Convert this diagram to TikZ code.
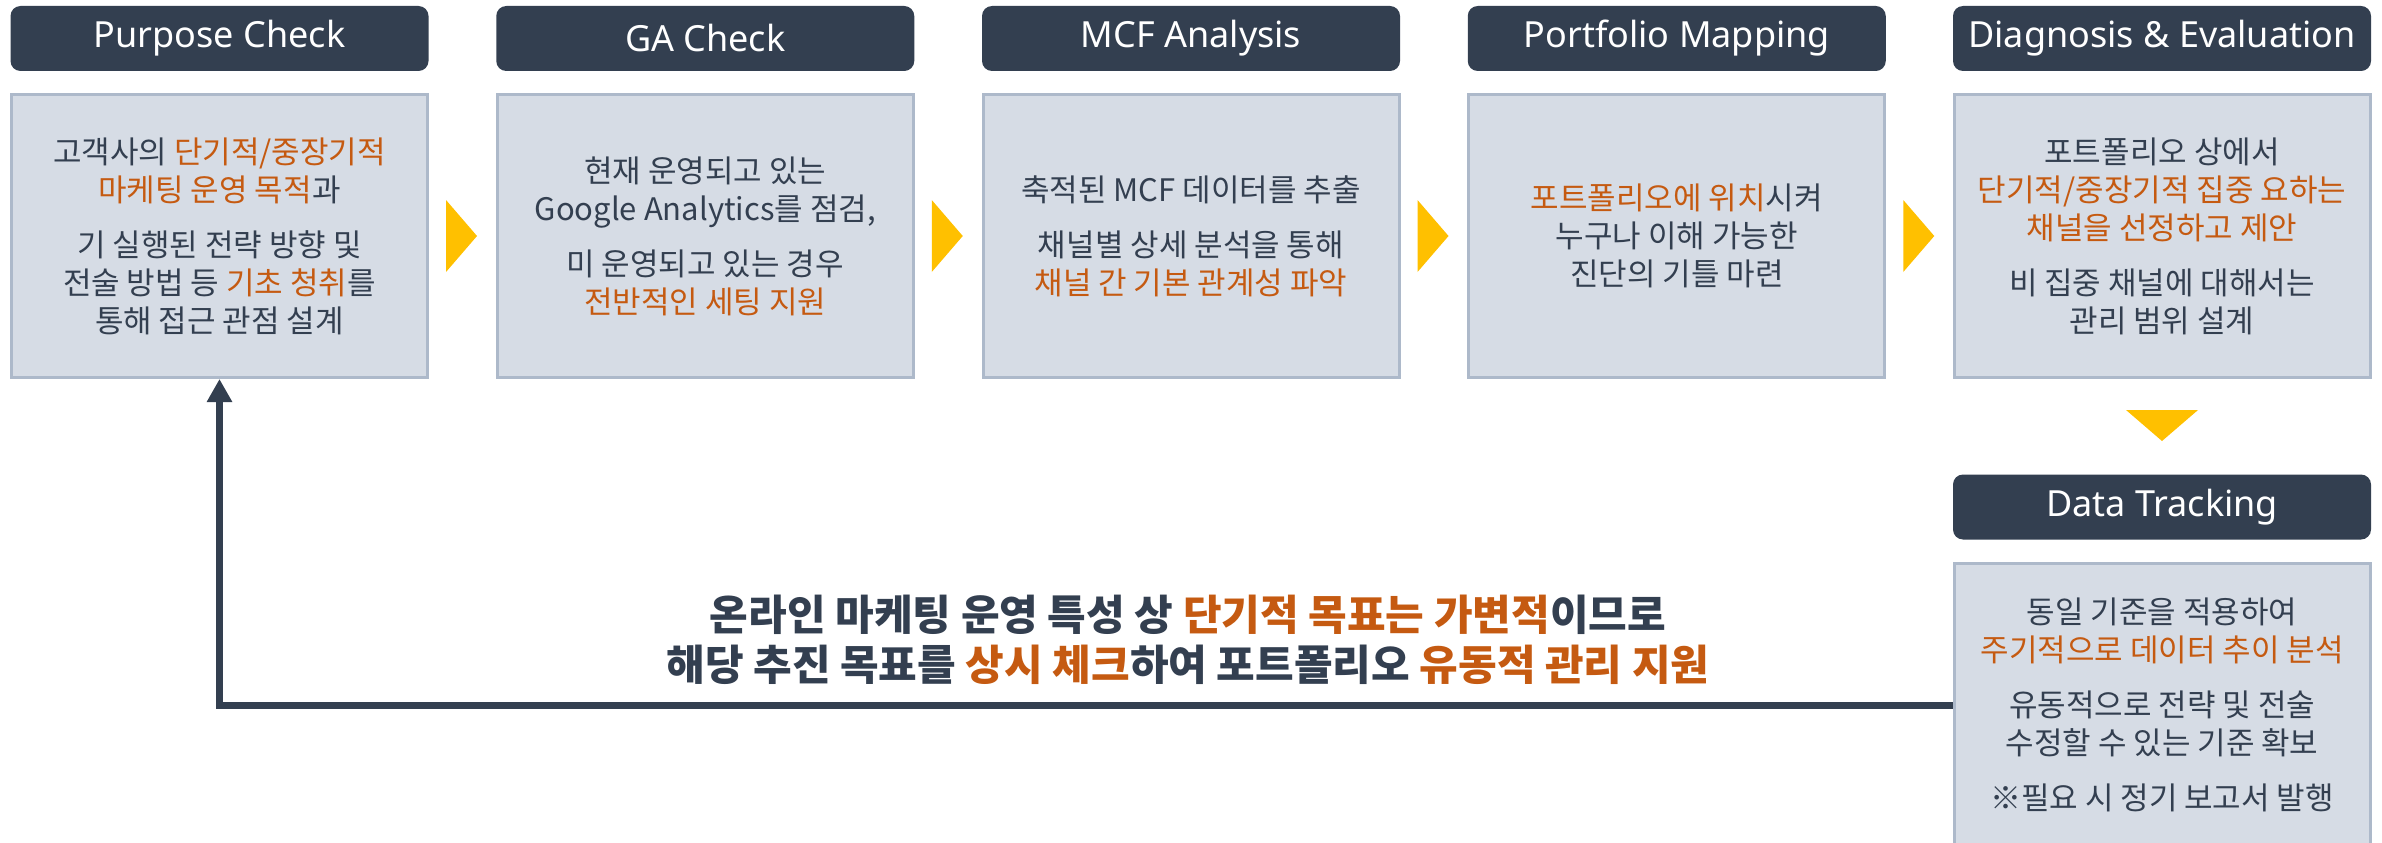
\documentclass[tikz,border=0pt]{standalone}
\usepackage{fontspec}
\setmainfont{Noto Sans CJK KR}
\newfontfamily\headfont{Noto Sans}
\usetikzlibrary{arrows.meta}
\definecolor{navy}{HTML}{333F50}
\definecolor{boxfill}{HTML}{D6DCE5}
\definecolor{boxline}{HTML}{ADB9CA}
\definecolor{accent}{HTML}{C55A11}
\definecolor{chevron}{HTML}{FFC000}
\newcommand{\hl}[1]{\textcolor{accent}{#1}}

\begin{document}
\begin{tikzpicture}[x=1pt,y=-1pt,
  header/.style={fill=navy, rounded corners=10pt, minimum width=418pt,
    minimum height=65pt, text=white, inner sep=0pt,
    font=\headfont\fontsize{36}{42}\selectfont},
  stepbox/.style={fill=boxfill, draw=boxline, line width=3pt,
    minimum width=416pt, minimum height=283pt, text=navy, inner sep=0pt,
    align=center, font=\fontsize{31}{38}\selectfont},
  chev/.style={fill=chevron},
  feedback/.style={draw=navy, line width=7pt,
    -{Triangle[width=24pt,length=23pt]}},
]
% page frame
\clip (0,0) rectangle (2382,843);
\fill[white] (0,0) rectangle (2382,843);

% column headers
\node[header] (h1) at (219.5,38.5) {Purpose Check};
\node[header] (h2) at (705.25,38.5) {GA Check};
\node[header] (h3) at (1191,38.5) {MCF Analysis};
\node[header] (h4) at (1676.75,38.5) {Portfolio Mapping};
\node[header] (h5) at (2162,38.5) {Diagnosis \& Evaluation};
\node[header] (h6) at (2162,507) {Data Tracking};

% step boxes
\node[stepbox] (b1) at (219.5,236) {고객사의 \hl{단기적/중장기적}\\
  \hl{마케팅 운영 목적}과\\[17pt]
  기 실행된 전략 방향 및\\
  전술 방법 등 \hl{기초 청취}를\\
  통해 접근 관점 설계};
\node[stepbox] (b2) at (705.25,236) {현재 운영되고 있는\\
  Google Analytics를 점검,\\[17pt]
  미 운영되고 있는 경우\\
  \hl{전반적인 세팅 지원}};
\node[stepbox] (b3) at (1191,236) {축적된 MCF 데이터를 추출\\[17pt]
  채널별 상세 분석을 통해\\
  \hl{채널 간 기본 관계성 파악}};
\node[stepbox] (b4) at (1676.75,236) {\hl{포트폴리오에 위치}시켜\\
  누구나 이해 가능한\\
  진단의 기틀 마련};
\node[stepbox] (b5) at (2162,236) {포트폴리오 상에서\\
  \hl{단기적/중장기적 집중 요하는}\\
  \hl{채널을 선정하고 제안}\\[17pt]
  비 집중 채널에 대해서는\\
  관리 범위 설계};
\node[stepbox] (b6) at (2162,705) {동일 기준을 적용하여\\
  \hl{주기적으로 데이터 추이 분석}\\[17pt]
  유동적으로 전략 및 전술\\
  수정할 수 있는 기준 확보\\[17pt]
  ※필요 시 정기 보고서 발행};

% chevrons between steps
\foreach \a in {b1,b2,b3,b4}{
  \fill[chev] ([xshift=17pt,yshift=36pt]\a.east) -- ++(31,36) -- ++(-31,36) -- cycle;
}
\fill[chev] ([xshift=-36pt,yshift=-31pt]b5.south) -- ++(72,0) -- ++(-36,31) -- cycle;

% feedback loop back to the first step
\draw[feedback] (b6.west) -| (b1.south);

% note on the loop
\node[text=navy, align=center, font=\bfseries\fontsize{42}{50}\selectfont] (note) at (1188,640)
  {온라인 마케팅 운영 특성 상 \hl{단기적 목표는 가변적}이므로\\
   해당 추진 목표를 \hl{상시 체크}하여 포트폴리오 \hl{유동적 관리 지원}};
\end{tikzpicture}
\end{document}
